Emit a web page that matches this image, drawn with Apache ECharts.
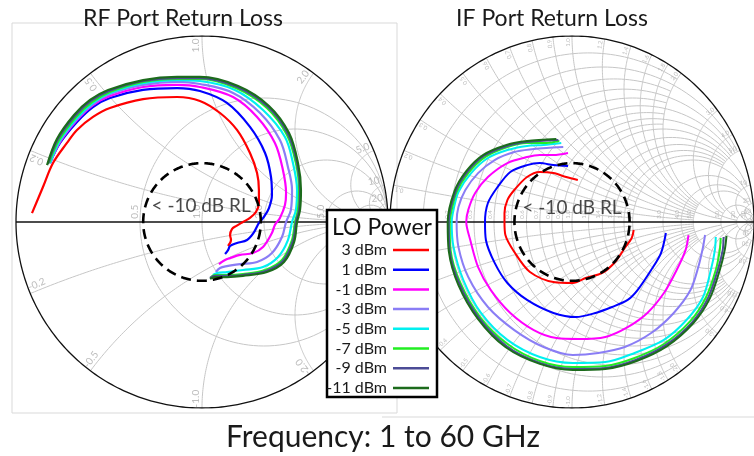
<!DOCTYPE html>
<html><head><meta charset="utf-8">
<script src="https://cdn.jsdelivr.net/npm/echarts@6/dist/echarts.min.js"></script>
<style>html,body{margin:0;padding:0;background:#fff}#c{width:754px;height:456px}</style>
</head><body><div id="c"></div>
<script>
// ---------------- DATA (reflection coefficient, [Re, Im]) ----------------
const loPower = ['3 dBm','1 dBm','-1 dBm','-3 dBm','-5 dBm','-7 dBm','-9 dBm','-11 dBm'];
const lineColors = ['#ff0000','#0000ff','#ff00ff','#8a7df5','#00f0f0','#22ee22','#4c4c96','#1c6b1c'];

const rf_p3 = [[-0.914,0.048],[-0.855,0.188],[-0.801,0.317],[-0.726,0.425],[-0.672,0.495],[-0.586,0.565],[-0.495,0.613],[-0.317,0.661],[-0.134,0.672],[-0.011,0.651],[0.097,0.586],[0.188,0.495],[0.258,0.371],[0.296,0.263],[0.306,0.172],[0.306,0.102],[0.290,0.054],[0.258,0.022],[0.220,0.000],[0.183,-0.022],[0.161,-0.038],[0.151,-0.070],[0.156,-0.097],[0.140,-0.129]];
const rf_p1 = [[-0.817,0.317],[-0.763,0.425],[-0.672,0.538],[-0.586,0.618],[-0.495,0.667],[-0.317,0.710],[-0.134,0.720],[-0.011,0.704],[0.134,0.640],[0.258,0.511],[0.339,0.371],[0.371,0.242],[0.376,0.145],[0.360,0.075],[0.333,0.027],[0.306,-0.005],[0.280,-0.054],[0.242,-0.097],[0.188,-0.113],[0.151,-0.129],[0.140,-0.151],[0.124,-0.172]];
const rf_m1 = [[-0.817,0.317],[-0.763,0.430],[-0.672,0.548],[-0.586,0.629],[-0.495,0.677],[-0.317,0.726],[-0.134,0.737],[-0.011,0.726],[0.167,0.672],[0.296,0.565],[0.392,0.425],[0.435,0.280],[0.452,0.156],[0.446,0.091],[0.419,0.022],[0.392,-0.016],[0.376,-0.059],[0.328,-0.134],[0.274,-0.167],[0.204,-0.177],[0.151,-0.194],[0.124,-0.204],[0.091,-0.226]];
const rf_m3 = [[-0.817,0.317],[-0.763,0.435],[-0.672,0.554],[-0.586,0.634],[-0.495,0.688],[-0.317,0.737],[-0.134,0.753],[-0.011,0.742],[0.167,0.694],[0.312,0.586],[0.419,0.441],[0.462,0.296],[0.484,0.172],[0.478,0.065],[0.452,0.000],[0.430,-0.081],[0.376,-0.167],[0.296,-0.215],[0.204,-0.226],[0.134,-0.237],[0.097,-0.247],[0.075,-0.269]];
const rf_m5 = [[-0.817,0.317],[-0.763,0.441],[-0.672,0.559],[-0.586,0.640],[-0.495,0.694],[-0.317,0.747],[-0.134,0.763],[-0.011,0.758],[0.177,0.710],[0.328,0.602],[0.446,0.457],[0.489,0.317],[0.511,0.172],[0.505,0.065],[0.484,0.000],[0.462,-0.097],[0.409,-0.188],[0.328,-0.242],[0.220,-0.258],[0.134,-0.269],[0.081,-0.274],[0.059,-0.285]];
const rf_m7 = [[-0.823,0.317],[-0.769,0.441],[-0.677,0.565],[-0.591,0.645],[-0.495,0.699],[-0.317,0.753],[-0.134,0.769],[-0.011,0.769],[0.183,0.720],[0.349,0.613],[0.457,0.468],[0.505,0.317],[0.522,0.172],[0.516,0.065],[0.500,0.000],[0.484,-0.097],[0.430,-0.204],[0.339,-0.258],[0.220,-0.280],[0.134,-0.285],[0.070,-0.285],[0.048,-0.296]];
const rf_m9 = [[-0.828,0.312],[-0.774,0.446],[-0.683,0.570],[-0.597,0.651],[-0.500,0.704],[-0.317,0.758],[-0.134,0.774],[-0.011,0.774],[0.188,0.726],[0.355,0.618],[0.462,0.473],[0.511,0.317],[0.527,0.172],[0.522,0.065],[0.505,0.000],[0.489,-0.102],[0.435,-0.210],[0.344,-0.263],[0.220,-0.285],[0.134,-0.290],[0.070,-0.290],[0.043,-0.301]];
const rf_m11 = [[-0.833,0.306],[-0.780,0.446],[-0.688,0.575],[-0.602,0.656],[-0.505,0.710],[-0.317,0.763],[-0.134,0.780],[-0.011,0.780],[0.194,0.731],[0.360,0.624],[0.468,0.478],[0.516,0.317],[0.532,0.172],[0.527,0.065],[0.511,0.000],[0.495,-0.108],[0.441,-0.215],[0.349,-0.269],[0.220,-0.290],[0.134,-0.296],[0.070,-0.296],[0.043,-0.306]];

const if_p3 = [[0.032,0.226],[-0.032,0.242],[-0.102,0.263],[-0.177,0.269],[-0.247,0.242],[-0.317,0.172],[-0.355,0.118],[-0.371,0.048],[-0.371,0.000],[-0.366,-0.070],[-0.317,-0.161],[-0.231,-0.269],[-0.102,-0.323],[0.005,-0.328],[0.075,-0.301],[0.167,-0.274],[0.237,-0.215],[0.290,-0.140],[0.328,-0.086],[0.339,-0.043]];
const if_p1 = [[-0.022,0.301],[-0.102,0.306],[-0.177,0.317],[-0.247,0.306],[-0.339,0.269],[-0.409,0.188],[-0.462,0.102],[-0.478,0.000],[-0.473,-0.097],[-0.425,-0.220],[-0.355,-0.328],[-0.247,-0.419],[-0.102,-0.489],[0.022,-0.511],[0.129,-0.489],[0.220,-0.457],[0.306,-0.419],[0.360,-0.366],[0.435,-0.258],[0.489,-0.167],[0.516,-0.059]];
const if_m1 = [[-0.022,0.371],[-0.102,0.360],[-0.177,0.360],[-0.247,0.349],[-0.355,0.317],[-0.462,0.242],[-0.532,0.156],[-0.570,0.065],[-0.581,0.000],[-0.559,-0.097],[-0.516,-0.242],[-0.446,-0.366],[-0.339,-0.489],[-0.210,-0.581],[-0.086,-0.624],[0.038,-0.629],[0.183,-0.618],[0.306,-0.565],[0.414,-0.489],[0.505,-0.382],[0.575,-0.258],[0.624,-0.151],[0.640,-0.070]];
const if_m3 = [[-0.048,0.403],[-0.140,0.398],[-0.210,0.392],[-0.317,0.376],[-0.425,0.333],[-0.516,0.263],[-0.586,0.172],[-0.624,0.081],[-0.634,0.000],[-0.624,-0.134],[-0.570,-0.296],[-0.462,-0.457],[-0.317,-0.581],[-0.156,-0.672],[0.005,-0.715],[0.145,-0.704],[0.290,-0.672],[0.435,-0.597],[0.559,-0.489],[0.651,-0.366],[0.694,-0.242],[0.720,-0.134],[0.731,-0.070]];
const if_m5 = [[-0.059,0.425],[-0.156,0.414],[-0.247,0.409],[-0.355,0.387],[-0.462,0.344],[-0.554,0.263],[-0.624,0.161],[-0.651,0.065],[-0.661,0.000],[-0.651,-0.134],[-0.597,-0.312],[-0.500,-0.489],[-0.355,-0.634],[-0.177,-0.726],[0.005,-0.758],[0.183,-0.753],[0.344,-0.704],[0.505,-0.634],[0.629,-0.527],[0.720,-0.403],[0.763,-0.258],[0.785,-0.151],[0.790,-0.081]];
const if_m7 = [[-0.070,0.435],[-0.140,0.425],[-0.247,0.425],[-0.355,0.403],[-0.478,0.349],[-0.570,0.263],[-0.634,0.161],[-0.661,0.065],[-0.672,0.000],[-0.667,-0.151],[-0.613,-0.328],[-0.505,-0.511],[-0.355,-0.656],[-0.177,-0.747],[0.005,-0.780],[0.183,-0.774],[0.344,-0.731],[0.505,-0.656],[0.651,-0.532],[0.737,-0.403],[0.790,-0.258],[0.812,-0.151],[0.817,-0.086]];
const if_m9 = [[-0.075,0.441],[-0.247,0.430],[-0.355,0.409],[-0.484,0.355],[-0.575,0.269],[-0.640,0.161],[-0.677,0.000],[-0.672,-0.151],[-0.618,-0.333],[-0.511,-0.516],[-0.360,-0.667],[-0.177,-0.758],[0.005,-0.790],[0.183,-0.785],[0.349,-0.742],[0.516,-0.661],[0.661,-0.538],[0.747,-0.409],[0.801,-0.258],[0.828,-0.151],[0.833,-0.081]];
const if_m11 = [[-0.086,0.446],[-0.247,0.435],[-0.360,0.414],[-0.489,0.360],[-0.581,0.274],[-0.645,0.167],[-0.683,0.000],[-0.677,-0.156],[-0.624,-0.339],[-0.516,-0.522],[-0.366,-0.672],[-0.177,-0.763],[0.005,-0.796],[0.183,-0.790],[0.355,-0.747],[0.522,-0.667],[0.667,-0.543],[0.758,-0.409],[0.812,-0.258],[0.839,-0.151],[0.849,-0.075]];

const rfSeries = [rf_p3, rf_p1, rf_m1, rf_m3, rf_m5, rf_m7, rf_m9, rf_m11];
const ifSeries = [if_p3, if_p1, if_m1, if_m3, if_m5, if_m7, if_m9, if_m11];

// Smith chart grid values
const rLeft = [0.5, 1, 2, 5, 10, 20];
const xLeft = [0.2, 0.5, 1, 2, 5, 10, 20];
const xLeftLabels = ['0.2','0.5','1.0','2.0','5.0','10','20'];
const rLeftAxis = [0.5, 1, 2, 5];
const rLeftAxisLabels = ['0.5','1.0','2.0','5.0'];
const rRight = [0.1,0.2,0.3,0.4,0.5,0.6,0.7,0.8,0.9,1.0,1.2,1.4,1.6,1.8,2.0,3,4,5,10,20,50];
const gridLimRight = [2,5,2,5,2,5,2,5,2,10,5,5,5,5,20,10,10,20,50,Infinity,Infinity];
const rightLabels = ['0.1','0.2','0.3','0.4','0.5','0.6','0.7','0.8','0.9','1.0','1.2','1.4','1.6','1.8','2.0','3.0','4.0','5.0','10','20','50'];
const returnLossDb = -10;

// ---------------- Smith geometry helpers ----------------
function gam(r, x){ const d=(r+1)*(r+1)+x*x; return [(r*r+x*x-1)/d, 2*x/d]; }
function rArc(r, X){ const p=[], U=Math.atan(X), n=160; for(let i=0;i<=n;i++){ const u=-U+2*U*i/n; p.push(gam(r, Math.tan(u))); } return p; }
function xArc(x, R){ const p=[], U=Math.atan(R), n=120; for(let i=0;i<=n;i++){ p.push(gam(Math.tan(U*i/n), x)); } return p; }
function circ(rad){ const p=[]; for(let i=0;i<=360;i++){ const a=i*Math.PI/180; p.push([rad*Math.cos(a), rad*Math.sin(a)]); } return p; }

function gridSeries(idx, rs, rl, xs, xl){
  const data=[];
  rs.forEach((r,i)=>data.push({coords:rArc(r, rl[i])}));
  xs.forEach((x,i)=>{ data.push({coords:xArc(x, xl[i])}); data.push({coords:xArc(-x, xl[i])}); });
  return {type:'lines', coordinateSystem:'cartesian2d', xAxisIndex:idx, yAxisIndex:idx, polyline:true, silent:true, animation:false,
    lineStyle:{color:'#c6c6c6', width:1, opacity:1}, data, z:1};
}
function frameSeries(idx){
  return [
    {type:'lines', coordinateSystem:'cartesian2d', xAxisIndex:idx, yAxisIndex:idx, polyline:true, silent:true, animation:false,
     lineStyle:{color:'#111', width:1.3, opacity:1}, data:[{coords:circ(1)},{coords:[[-1,0],[1,0]]}], z:3},
    {type:'lines', coordinateSystem:'cartesian2d', xAxisIndex:idx, yAxisIndex:idx, polyline:true, silent:true, animation:false,
     lineStyle:{color:'#000', width:2.6, opacity:1, type:[10,6]}, data:[{coords:circ(Math.pow(10, returnLossDb/20))}], z:20}
  ];
}
function rimLabels(xs, labels, radius, offDeg){
  const out=[];
  xs.forEach((x,i)=>{
    const th = Math.PI - 2*Math.atan(x);
    const a1 = th + offDeg*Math.PI/180;
    out.push({value:[radius*Math.cos(a1), radius*Math.sin(a1)], label:{formatter:labels[i], rotate: th*180/Math.PI}});
    const a2 = -th - offDeg*Math.PI/180;
    out.push({value:[radius*Math.cos(a2), radius*Math.sin(a2)], label:{formatter:'-'+labels[i], rotate: -th*180/Math.PI+180}});
  });
  return out;
}
function axisLabels(rs, labels, dx, dy){
  return rs.map((r,i)=>({value:[(r-1)/(r+1)+dx, dy], label:{formatter:labels[i], rotate:90}}));
}
function labelSeries(idx, data, size){
  return {type:'scatter', xAxisIndex:idx, yAxisIndex:idx, symbolSize:1, silent:true, animation:false, itemStyle:{color:'rgba(0,0,0,0)'},
    label:{show:true, position:'inside', color:'#ababab', fontSize:size, fontFamily:'Lato'}, data, z:2};
}

const series = [];
series.push(gridSeries(0, rLeft, rLeft.map(()=>Infinity), xLeft, xLeft.map(()=>Infinity)));
series.push(gridSeries(1, rRight, gridLimRight, rRight, gridLimRight));
series.push(...frameSeries(0), ...frameSeries(1));
series.push(labelSeries(0, rimLabels(xLeft, xLeftLabels, 0.95, 2).concat(axisLabels(rLeftAxis, rLeftAxisLabels, -0.03, 0.055)), 10));
series.push(labelSeries(1, rimLabels(rRight, rightLabels, 0.965, 1.2).concat(axisLabels(rRight, rightLabels, -0.022, 0.04)), 6));
series.push({type:'scatter', xAxisIndex:0, yAxisIndex:0, symbolSize:1, silent:true, itemStyle:{color:'rgba(0,0,0,0)'}, z:21,
  label:{show:true, position:'inside', color:'#1a1a1a', fontSize:19, fontFamily:'Lato'}, data:[{value:[-0.005,0.086], label:{formatter:'< -10 dB RL'}}]});
series.push({type:'scatter', xAxisIndex:1, yAxisIndex:1, symbolSize:1, silent:true, itemStyle:{color:'rgba(0,0,0,0)'}, z:21,
  label:{show:true, position:'inside', color:'#1a1a1a', fontSize:19, fontFamily:'Lato'}, data:[{value:[0.0,0.075], label:{formatter:'< -10 dB RL'}}]});

loPower.forEach((name,i)=>{
  series.push({name, type:'line', xAxisIndex:0, yAxisIndex:0, data:rfSeries[i], showSymbol:false, smooth:0.35, animation:false,
    lineStyle:{color:lineColors[i], width:2.2}, z:10});
  series.push({name, type:'line', xAxisIndex:1, yAxisIndex:1, data:ifSeries[i], showSymbol:false, smooth:0.3, animation:false,
    lineStyle:{color:lineColors[i], width:2}, z:10});
});

const ax = (i)=>({type:'value', gridIndex:i, min:-1, max:1, show:false});
const legendItems = [];
loPower.forEach((name,i)=>{
  const y = 250 + i*19.7;
  legendItems.push({type:'text', z:101, zlevel:1, style:{text:name, x:387, y:y, font:'16px Lato', fill:'#1a1a1a', textAlign:'right', align:'right', textVerticalAlign:'middle', verticalAlign:'middle'}});
  legendItems.push({type:'line', z:101, zlevel:1, shape:{x1:393, y1:y, x2:429, y2:y}, style:{stroke:lineColors[i], lineWidth:2.5}});
});

const option = {
  animation:false,
  grid:[{left:16, top:36, width:372, height:372}, {left:390, top:36, width:372, height:372}],
  xAxis:[ax(0), ax(1)], yAxis:[ax(0), ax(1)],
  series,
  graphic:[
    {type:'rect', z:-10, shape:{x:12, y:23, width:385, height:390}, style:{fill:'none', stroke:'#d9d9d9', lineWidth:1}},
    {type:'line', z:-10, shape:{x1:382, y1:417, x2:754, y2:417}, style:{stroke:'#d9d9d9', lineWidth:1}},
    {type:'text', style:{text:'RF Port Return Loss', x:183, y:19, font:'23px Lato', fill:'#1a1a1a', textAlign:'center', align:'center', textVerticalAlign:'middle', verticalAlign:'middle'}},
    {type:'text', style:{text:'IF Port Return Loss', x:552, y:19, font:'23px Lato', fill:'#1a1a1a', textAlign:'center', align:'center', textVerticalAlign:'middle', verticalAlign:'middle'}},
    {type:'text', style:{text:'Frequency: 1 to 60 GHz', x:383, y:437, font:'30px Lato', fill:'#1a1a1a', textAlign:'center', align:'center', textVerticalAlign:'middle', verticalAlign:'middle'}},
    {type:'rect', z:100, zlevel:1, shape:{x:327, y:210, width:110, height:187}, style:{fill:'#fff', stroke:'#000', lineWidth:2.5}},
    {type:'text', z:101, zlevel:1, style:{text:'LO Power', x:382, y:228, font:'23px Lato', fill:'#111', textAlign:'center', align:'center', textVerticalAlign:'middle', verticalAlign:'middle'}},
    ...legendItems
  ]
};
const chart = echarts.init(document.getElementById('c'));
chart.setOption(option);
</script>
</body></html>
